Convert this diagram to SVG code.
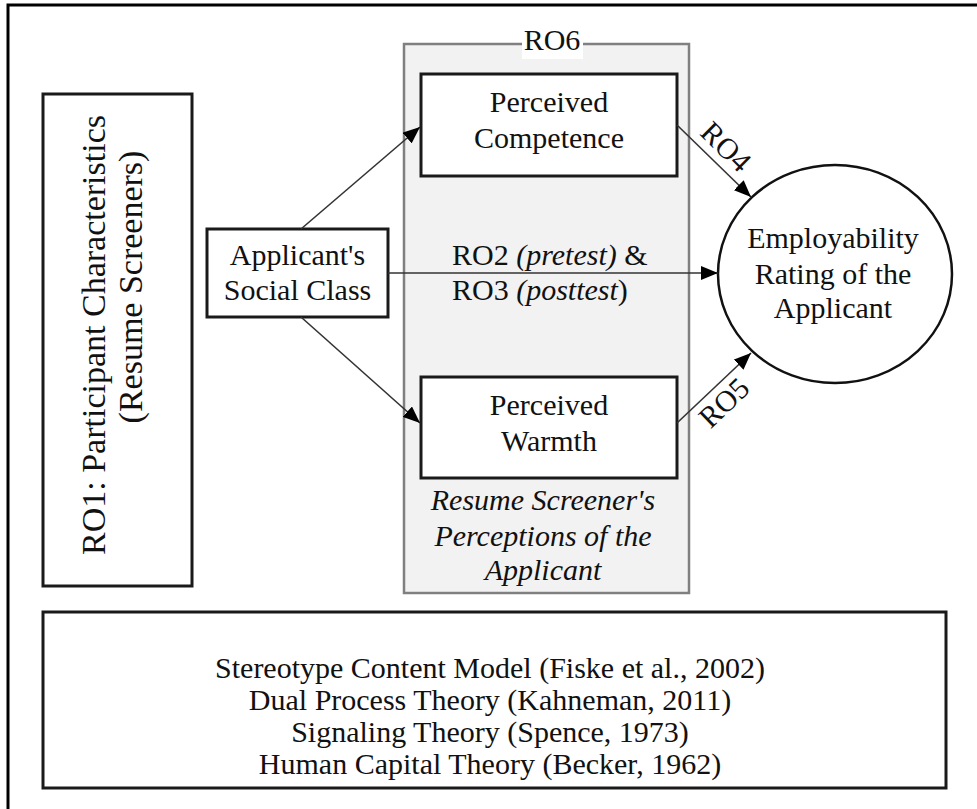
<svg xmlns="http://www.w3.org/2000/svg" width="977" height="809" viewBox="0 0 977 809">
<style>
  .t{font-family:"Liberation Serif","Times New Roman",serif;font-size:30px;fill:#111;}
  .c{text-anchor:middle;}
  .i{font-style:italic;}
  .box{fill:#fff;stroke:#1a1a1a;stroke-width:3;}
  .conn{stroke:#333;stroke-width:1.6;fill:none;}
</style>
<defs>
  <marker id="ah" markerUnits="userSpaceOnUse" markerWidth="18" markerHeight="14" refX="17" refY="7" orient="auto">
    <path d="M0,0 L17,7 L0,14 z" fill="#000"/>
  </marker>
</defs>
<rect width="977" height="809" fill="#fff"/>
<rect id="frame" x="8" y="5" width="1000" height="900" fill="none" stroke="#000" stroke-width="3"/>

<g id="ro1">
  <rect class="box" x="43" y="94" width="149" height="492" stroke-width="2.5"/>
  <text class="t c" style="font-size:34px" transform="translate(105,335) rotate(-90)">RO1: Participant Characteristics</text>
  <text class="t c" style="font-size:34px" transform="translate(142,287) rotate(-90)">(Resume Screeners)</text>
</g>

<g id="ro6">
  <rect x="404" y="44" width="285" height="549" fill="#f2f2f2" stroke="#808080" stroke-width="2.5"/>
  <rect x="522" y="28" width="61" height="31" fill="#fff"/>
  <text class="t c" x="552" y="50">RO6</text>
  <text class="t c i" x="543" y="510">Resume Screener's</text>
  <text class="t c i" x="543" y="546">Perceptions of the</text>
  <text class="t c i" x="543" y="580">Applicant</text>
</g>

<g id="competence">
  <rect class="box" x="421" y="74" width="256" height="102"/>
  <text class="t c" x="549" y="112">Perceived</text>
  <text class="t c" x="549" y="148">Competence</text>
</g>

<g id="warmth">
  <rect class="box" x="421" y="377" width="256" height="101"/>
  <text class="t c" x="549" y="415">Perceived</text>
  <text class="t c" x="549" y="451">Warmth</text>
</g>

<g id="social-class">
  <rect class="box" x="207" y="229" width="181" height="88" stroke-width="2.5"/>
  <text class="t c" x="297.5" y="265">Applicant's</text>
  <text class="t c" x="297.5" y="300">Social Class</text>
</g>

<g id="employability">
  <ellipse cx="835" cy="274" rx="117" ry="109" fill="#fff" stroke="#111" stroke-width="2.5"/>
  <text class="t c" x="833" y="248">Employability</text>
  <text class="t c" x="833" y="284">Rating of the</text>
  <text class="t c" x="833" y="318">Applicant</text>
</g>

<g id="theories">
  <rect class="box" x="43" y="612" width="903" height="176" stroke="#333"/>
  <text class="t c" x="490" y="678">Stereotype Content Model (Fiske et al., 2002)</text>
  <text class="t c" x="490" y="710">Dual Process Theory (Kahneman, 2011)</text>
  <text class="t c" x="490" y="742">Signaling Theory (Spence, 1973)</text>
  <text class="t c" x="490" y="774">Human Capital Theory (Becker, 1962)</text>
</g>

<g id="connectors">
  <line class="conn" x1="301" y1="229" x2="420" y2="127" marker-end="url(#ah)"/>
  <line class="conn" x1="388" y1="273" x2="718" y2="273" marker-end="url(#ah)"/>
  <line class="conn" x1="301" y1="317" x2="420" y2="423" marker-end="url(#ah)"/>
  <line class="conn" x1="677" y1="125" x2="751" y2="197" marker-end="url(#ah)"/>
  <line class="conn" x1="677" y1="423" x2="751" y2="353" marker-end="url(#ah)"/>
  <text class="t" x="452" y="265">RO2 <tspan class="i">(pretest)</tspan> &amp;</text>
  <text class="t" x="452" y="300">RO3 <tspan class="i">(posttest</tspan>)</text>
  <text class="t c" transform="translate(719,154) rotate(44.6)">RO4</text>
  <text class="t c" transform="translate(731,410) rotate(-43.8)">RO5</text>
</g>
</svg>
